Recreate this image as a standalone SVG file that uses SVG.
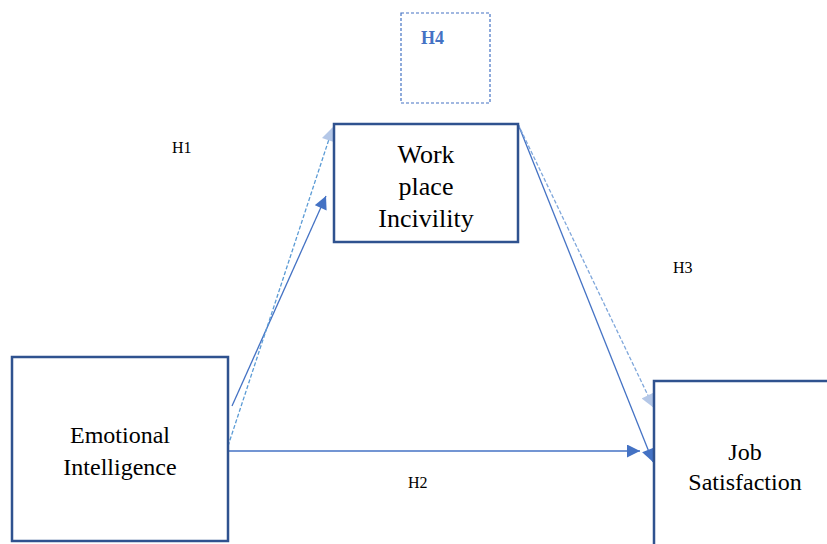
<svg xmlns="http://www.w3.org/2000/svg" width="827" height="544" viewBox="0 0 827 544">
<defs>
<marker id="ah" viewBox="0 0 10 10" refX="10" refY="5" markerWidth="14" markerHeight="13" markerUnits="userSpaceOnUse" orient="auto"><path d="M0,0 L10,5 L0,10 Z" fill="#4472C4"/></marker>
<marker id="ahL" viewBox="0 0 10 10" refX="10" refY="5" markerWidth="15" markerHeight="14" markerUnits="userSpaceOnUse" orient="auto"><path d="M0,0 L10,5 L0,10 Z" fill="#B4C7E7"/></marker>
</defs>
<rect width="827" height="544" fill="#fff"/>
<g id="connectors" fill="none" stroke-width="1.3">
<line stroke="#4472C4" x1="232" y1="406" x2="326" y2="196" marker-end="url(#ah)"/>
<line stroke="#5B9BD5" stroke-dasharray="4,2" x1="228" y1="446" x2="333" y2="127" marker-end="url(#ahL)"/>
<line stroke="#4472C4" x1="228" y1="451" x2="640" y2="451" marker-end="url(#ah)"/>
<line stroke="#4472C4" x1="518" y1="124" x2="653" y2="462" marker-end="url(#ah)"/>
<line stroke="#7FA7DB" stroke-dasharray="4,2" x1="518" y1="124" x2="654" y2="408" marker-end="url(#ahL)"/>
</g>
<g id="h4box">
<rect x="401" y="13" width="89" height="90" fill="none" stroke="#4472C4" stroke-width="1.2" stroke-dasharray="3,2"/>
<text x="421" y="44" font-size="18" font-weight="bold" fill="#4472C4" font-family="Liberation Serif" style="font-family:'Liberation Serif'">H4</text>
</g>
<g id="ei">
<rect x="12" y="357" width="216" height="184" fill="#fff" stroke="#2F528F" stroke-width="2.5"/>
<text x="120" y="443" font-size="24" text-anchor="middle" fill="#000" font-family="Liberation Serif" style="font-family:'Liberation Serif'">Emotional</text>
<text x="120" y="475" font-size="24" text-anchor="middle" fill="#000" font-family="Liberation Serif" style="font-family:'Liberation Serif'">Intelligence</text>
</g>
<g id="wpi">
<rect x="334" y="124" width="184" height="118" fill="#fff" stroke="#2F528F" stroke-width="2.5"/>
<text x="426" y="163" font-size="26" text-anchor="middle" fill="#000" font-family="Liberation Serif" style="font-family:'Liberation Serif'">Work</text>
<text x="426" y="195" font-size="26" text-anchor="middle" fill="#000" font-family="Liberation Serif" style="font-family:'Liberation Serif'">place</text>
<text x="426" y="227" font-size="26" text-anchor="middle" fill="#000" font-family="Liberation Serif" style="font-family:'Liberation Serif'">Incivility</text>
</g>
<g id="js">
<rect x="654" y="381" width="180" height="170" fill="#fff" stroke="#2F528F" stroke-width="2.5"/>
<text x="745" y="460" font-size="24" text-anchor="middle" fill="#000" font-family="Liberation Serif" style="font-family:'Liberation Serif'">Job</text>
<text x="745" y="490" font-size="24" text-anchor="middle" fill="#000" font-family="Liberation Serif" style="font-family:'Liberation Serif'">Satisfaction</text>
</g>
<g id="labels">
<text x="172" y="153" font-size="16" fill="#000" font-family="Liberation Serif" style="font-family:'Liberation Serif'">H1</text>
<text x="673" y="273" font-size="16" fill="#000" font-family="Liberation Serif" style="font-family:'Liberation Serif'">H3</text>
<text x="408" y="488" font-size="16" fill="#000" font-family="Liberation Serif" style="font-family:'Liberation Serif'">H2</text>
</g>
</svg>
